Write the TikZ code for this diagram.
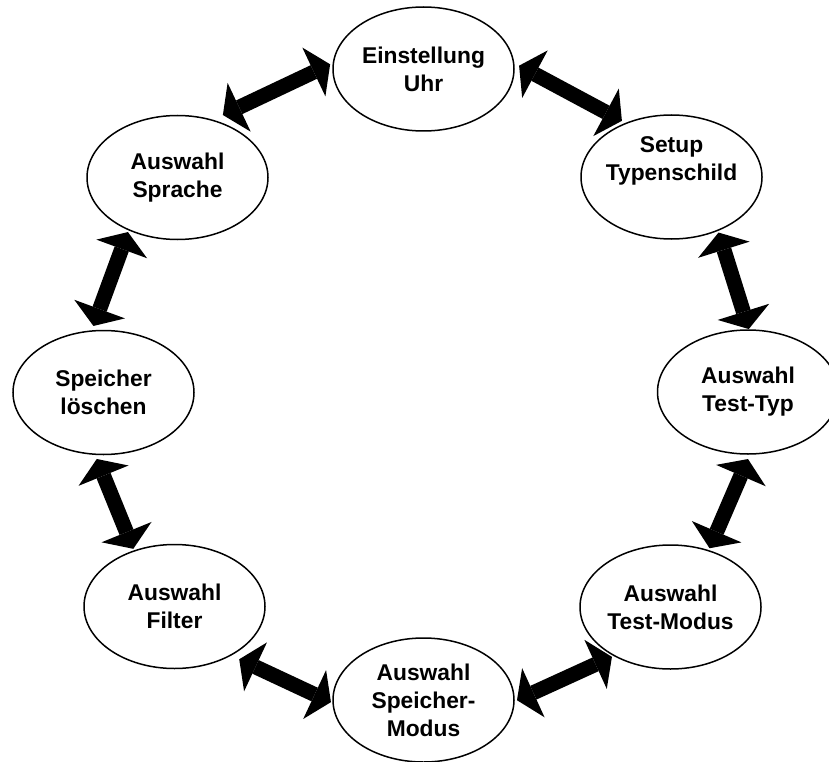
\documentclass[tikz,border=0pt]{standalone}
\usepackage{fontspec}
\setmainfont{Liberation Sans}
\usetikzlibrary{arrows.meta,shapes.geometric}
\begin{document}
\begin{tikzpicture}[x=1pt,y=-1pt,
  state/.style={draw=black, line width=1.5pt, ellipse, minimum width=181pt, minimum height=124pt,
    inner xsep=-4pt, inner ysep=0pt, outer sep=0pt, align=center,
    font=\bfseries\fontsize{22.8}{28}\selectfont},
  tipshape/.style={},
  link/.style={line width=15pt, draw=black,
    {Triangle[length=18pt,width=54pt,line width=0pt]}-{Triangle[length=18pt,width=54pt,line width=0pt]}}]
\useasboundingbox (0,0) rectangle (829,762);

\node[state] (uhr) at (423.5,69) {Einstellung\\Uhr};
\node[state] (set) at (671.5,177) {Setup\\Typenschild\\\strut};
\node[state] (tt)  at (748,392) {Auswahl\\Test-Typ};
\node[state] (tm)  at (670.5,607) {Auswahl\\Test-Modus};
\node[state] (sm)  at (423.5,700) {Auswahl\\Speicher-\\Modus};
\node[state] (fi)  at (174.5,606.5) {Auswahl\\Filter};
\node[state] (lo)  at (103.5,392.5) {Speicher\\löschen};
\node[state] (spr) at (177.5,177.5) {Auswahl\\Sprache};

\draw[link, shorten <=12.1pt, shorten >=3.7pt] (spr.59.4) -- (uhr.176.5);
\draw[link, shorten <=6.3pt, shorten >=5.1pt] (uhr.4.4) -- (set.130.1);
\draw[link, shorten <=2.4pt, shorten >=1pt] (set.311.7) -- (tt.89.5);
\draw[link, shorten <=5.5pt, shorten >=2.7pt] (tt.272.3) -- (tm.56.1);
\draw[link, shorten <=2.8pt, shorten >=3.3pt] (tm.221.8) -- (sm.359.2);
\draw[link, shorten <=2.4pt, shorten >=9.6pt] (sm.182.5) -- (fi.319);
\draw[link, shorten <=2.35pt, shorten >=5.15pt] (fi.126.8) -- (lo.262.1);
\draw[link, shorten <=5.4pt, shorten >=2.45pt] (lo.101) -- (spr.227.9);
\end{tikzpicture}
\end{document}
